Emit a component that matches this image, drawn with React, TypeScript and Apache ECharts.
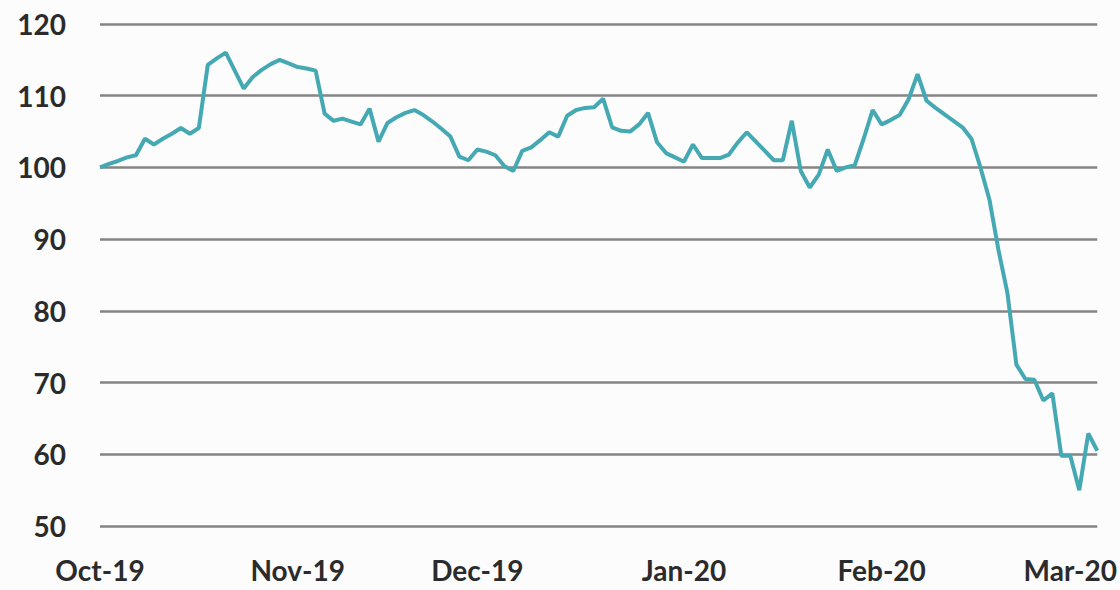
import React, { useEffect, useRef } from "react";
import * as echarts from "echarts";

// Daily index values (Oct-19 = 100), one per trading day
const indexValues: number[] = [
  100, 100.5, 100.9, 101.4, 101.7, 104, 103.2, 104, 104.7, 105.5,
  104.7, 105.5, 114.3, 115.2, 116, 113.5, 111, 112.6, 113.6, 114.4,
  115, 114.5, 114, 113.8, 113.5, 107.5, 106.5, 106.8, 106.4, 106,
  108.2, 103.6, 106.2, 107, 107.6, 108, 107.3, 106.4, 105.4, 104.3,
  101.5, 101, 102.5, 102.2, 101.7, 100.2, 99.5, 102.3, 102.8, 103.8,
  104.9, 104.3, 107.2, 108, 108.3, 108.4, 109.6, 105.6, 105.1, 105,
  106, 107.6, 103.5, 102, 101.4, 100.8, 103.2, 101.3, 101.3, 101.3,
  101.8, 103.5, 104.9, 103.6, 102.3, 101, 101, 106.5, 99.5, 97.2,
  99, 102.5, 99.5, 100, 100.3, 104, 108, 106, 106.6, 107.3,
  109.5, 113, 109.3, 108.3, 107.4, 106.5, 105.6, 104, 100, 95.5,
  88.5, 82.5, 72.5, 70.5, 70.4, 67.5, 68.5, 59.8, 59.8, 55,
  62.9, 60.5,
];

// Month tick labels and the day index where each is placed
const monthLabels: string[] = ["Oct-19", "Nov-19", "Dec-19", "Jan-20", "Feb-20", "Mar-20"];
const monthStartIdx: number[] = [0, 22, 42, 65, 87, 108];

// Y axis ticks
const yMin = 50;
const yMax = 120;
const yStep = 10;

export default function App() {
  const ref = useRef<HTMLDivElement>(null);

  useEffect(() => {
    if (!ref.current) return;
    const chart = echarts.init(ref.current, undefined, { renderer: "svg" });
    const categories = indexValues.map((_, i) => {
      const k = monthStartIdx.indexOf(i);
      return k >= 0 ? monthLabels[k] : String(i);
    });
    const font = "Lato, 'Open Sans', sans-serif";
    chart.setOption({
      animation: false,
      backgroundColor: "#fcfcfc",
      grid: { left: 100, right: 22, top: 24, bottom: 64, containLabel: false },
      xAxis: {
        type: "category",
        data: categories,
        boundaryGap: false,
        axisLine: { show: false },
        axisTick: { show: false },
        axisLabel: {
          interval: (idx: number) => monthStartIdx.includes(idx),
          margin: 30,
          color: "#2b2b2b",
          fontFamily: font,
          fontWeight: "bold",
          fontSize: 28,
          hideOverlap: false,
        },
        splitLine: { show: false },
      },
      yAxis: {
        type: "value",
        min: yMin,
        max: yMax,
        interval: yStep,
        axisLine: { show: false },
        axisTick: { show: false },
        axisLabel: {
          margin: 34,
          color: "#2b2b2b",
          fontFamily: font,
          fontWeight: "bold",
          fontSize: 28,
        },
        splitLine: { lineStyle: { color: "#858585", width: 2.5 } },
      },
      series: [
        {
          type: "line",
          data: indexValues,
          showSymbol: false,
          symbol: "none",
          lineStyle: { color: "#45a9b4", width: 4 },
        },
      ],
    });
    return () => chart.dispose();
  }, []);

  return (
    <div
      ref={ref}
      style={{ position: "fixed", left: 0, top: 0, width: 1120, height: 590 }}
    />
  );
}
